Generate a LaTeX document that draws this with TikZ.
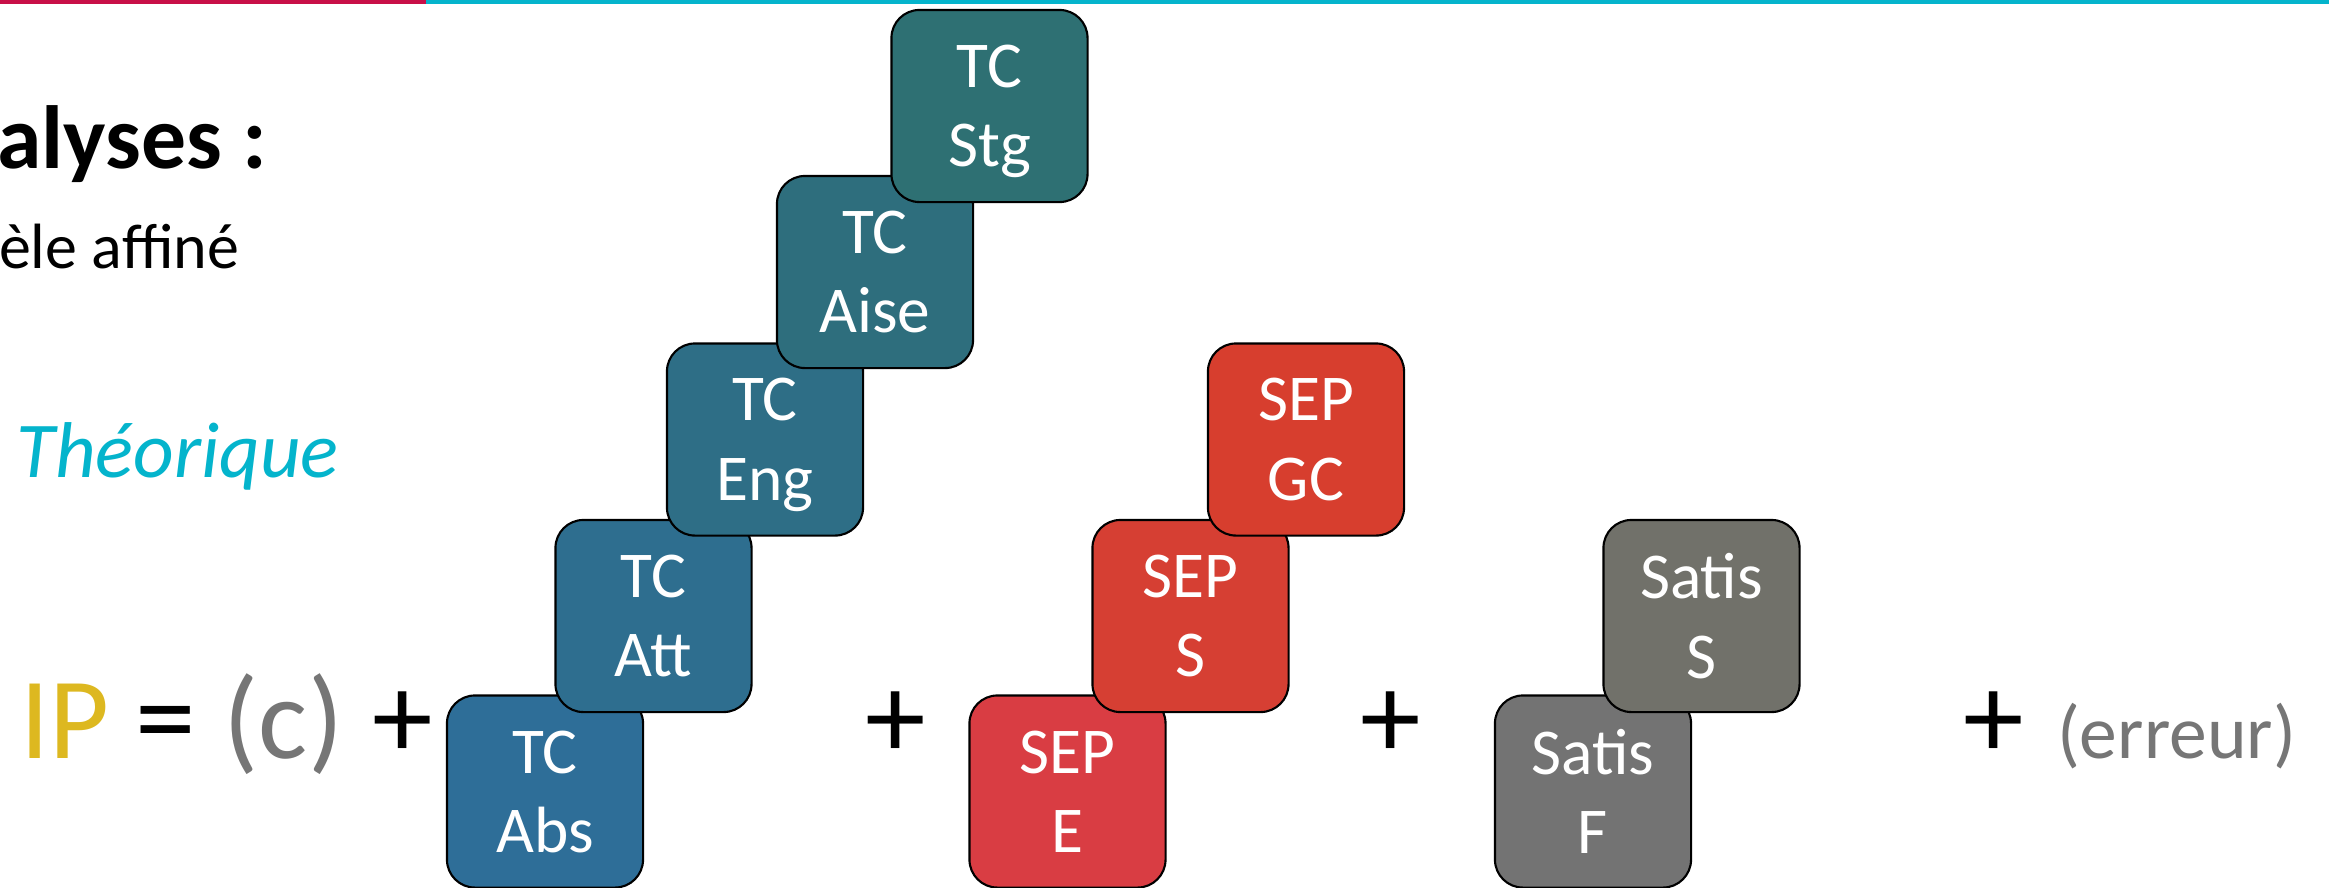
\documentclass[tikz,border=0pt]{standalone}
\usepackage{fontspec}
\setmainfont{Carlito}
\definecolor{topred}{HTML}{C81048}
\definecolor{topcyan}{HTML}{04B4CC}
\definecolor{cabs}{HTML}{2E6E98}
\definecolor{catt}{HTML}{2E6E8F}
\definecolor{ceng}{HTML}{2E6E86}
\definecolor{caise}{HTML}{2E6E7D}
\definecolor{cstg}{HTML}{2E7073}
\definecolor{csepe}{HTML}{D93D43}
\definecolor{cseps}{HTML}{D63F33}
\definecolor{csepgc}{HTML}{D73E2E}
\definecolor{csatf}{HTML}{737373}
\definecolor{csats}{HTML}{71716A}
\definecolor{ipyellow}{HTML}{DDB820}
\definecolor{eqgray}{HTML}{767676}
\begin{document}
\begin{tikzpicture}[x=0.01cm,y=-0.01cm,
  box/.style={draw=black,line width=0.6pt,rounded corners=0.28cm,
    minimum width=1.96cm,minimum height=1.92cm,inner sep=0pt,
    text depth=0pt,
    text=white,align=center,font=\fontsize{18.6}{22.6}\selectfont},
  eq/.style={inner sep=0pt,anchor=base,font=\fontsize{33}{40}\selectfont},
  plus/.style={eq,font=\fontsize{34.5}{40}\selectfont}]
\useasboundingbox (0,0) rectangle (2329,887);
\fill[white] (0,0) rectangle (2329,887);
% top rule
\fill[topred] (0,0) rectangle (426,4);
\fill[topcyan] (426,0) rectangle (2329,4);
% left texts
\node[inner sep=0pt,anchor=base east,font=\fontsize{25.5}{30}\selectfont\bfseries] (title) at (268,168) {alyses :};
\node[inner sep=0pt,anchor=base east,font=\fontsize{18.2}{22}\selectfont] (sub) at (240,268) {èle affiné};
\node[inner sep=0pt,anchor=base west,text=topcyan,font=\fontsize{22.5}{27}\selectfont\itshape] (theo) at (16,477) {Théorique};
% equation
\node[eq,text=ipyellow] (ip) at (65,758) {IP};
\node[plus] (eqs) at (166,758) {=};
\node[eq,text=eqgray] (c) at (283.5,758) {(c)};
\node[plus] (p1) at (402.5,758) {+};
\node[plus] (p2) at (896,758) {+};
\node[plus] (p3) at (1391,758) {+};
\node[plus] (p4) at (1994,758) {+};
\node[inner sep=0pt,anchor=base,text=eqgray,font=\fontsize{21.5}{26}\selectfont] (err) at (2176.5,758) {(erreur)};
% TC boxes
\node[box,fill=cabs] (abs) at (545,791.5) {TC\\Abs};
\node[box,fill=catt] (att) at (653.5,616) {TC\\Att};
\node[box,fill=ceng] (eng) at (765,439.5) {TC\\Eng};
\node[box,fill=caise] (aise) at (875,272) {TC\\Aise};
\node[box,fill=cstg] (stg) at (989.5,106) {TC\\Stg};
% SEP boxes
\node[box,fill=csepe] (sepe) at (1067.5,791.5) {SEP\\E};
\node[box,fill=cseps] (seps) at (1190.5,616) {SEP\\S};
\node[box,fill=csepgc] (sepgc) at (1306,439.5) {SEP\\GC};
% Satis boxes
\node[box,fill=csatf] (satf) at (1593,791.5) {Satis\\F};
\node[box,fill=csats] (sats) at (1701.5,616) {Satis\\S};
\end{tikzpicture}
\end{document}
